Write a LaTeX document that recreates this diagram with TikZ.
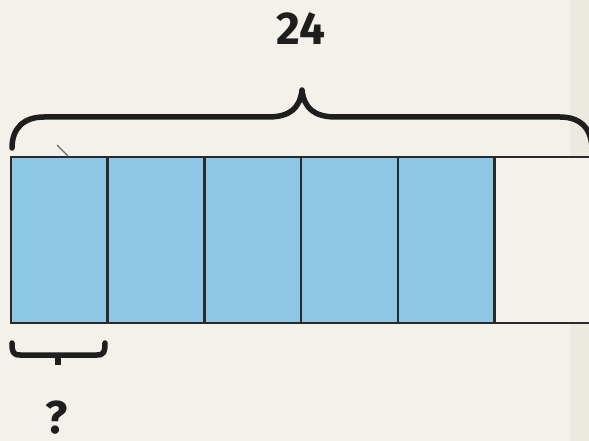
\documentclass[tikz,border=0pt]{standalone}
\usepackage{fontspec}
\setmainfont{Fira Sans}
\definecolor{bg}{HTML}{F4F1EA}
\definecolor{bgstrip}{HTML}{ECE9E0}
\definecolor{barblue}{HTML}{8EC7E5}
\definecolor{ink}{HTML}{1E1E1E}
\definecolor{edge}{HTML}{2A2A2A}
\definecolor{straygray}{HTML}{6A6A6A}
\tikzset{
  seg/.style={draw=edge, line width=2.5pt, fill=barblue, anchor=north west, inner sep=0pt, outer sep=0pt, minimum width=96.7pt, minimum height=166pt},
  emptyseg/.style={seg, fill=bg},
  bracestroke/.style={draw=ink, line width=5.5pt, line cap=round, line join=round},
  label/.style={font=\fontsize{46}{46}\selectfont\bfseries, text=ink, inner sep=0pt}
}
\begin{document}
\begin{tikzpicture}[x=1pt,y=-1pt]
\useasboundingbox (0,0) rectangle (589,441);
\fill[bg] (0,0) rectangle (589,441);
\fill[bgstrip] (570,0) rectangle (589,441);
% bar segments
\node[seg] (s1) at (11,157) {};
\node[seg] (s2) at (107.7,157) {};
\node[seg] (s3) at (204.4,157) {};
\node[seg] (s4) at (301.1,157) {};
\node[seg] (s5) at (397.8,157) {};
\node[emptyseg] (s6) at (494.5,157) {};
% small stray mark
\draw[draw=straygray, line width=1.2pt] (57,145) -- (68,156);
% big brace
\path[bracestroke] (12,148) .. controls (12,128) and (24,117) .. (44,117) -- (268,117)
  .. controls (290,117) and (300,108) .. (302,90)
  .. controls (304,108) and (314,117) .. (336,117) -- (560,117)
  .. controls (580,117) and (592,128) .. (592,150);
% small brace
\path[bracestroke] (12,343) .. controls (12,352) and (13,355) .. (20,355) -- (97,355)
  .. controls (104,355) and (105,352) .. (105,343);
\path[bracestroke, line cap=butt] (58,355) -- (58,365);
% labels
\node[label] (total) at (301,29) {24};
\node[label] (part) at (57,418) {?};
\end{tikzpicture}
\end{document}
